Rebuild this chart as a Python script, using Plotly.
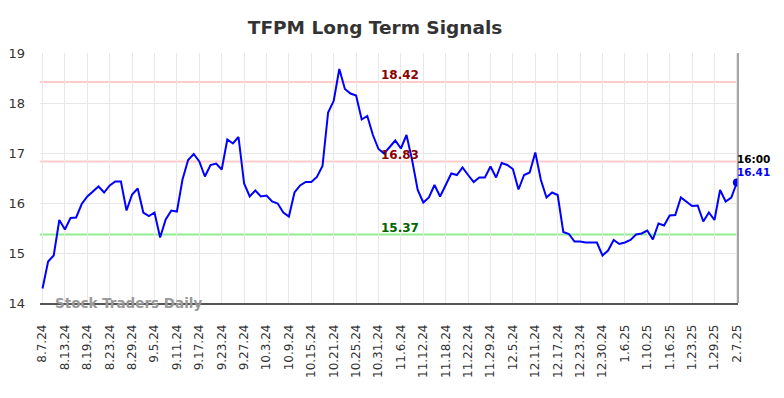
import plotly.graph_objects as go

title = "TFPM Long Term Signals"
tick_labels = ["8.7.24", "8.13.24", "8.19.24", "8.23.24", "8.29.24", "9.5.24", "9.11.24", "9.17.24",
               "9.23.24", "9.27.24", "10.3.24", "10.9.24", "10.15.24", "10.21.24", "10.25.24", "10.31.24",
               "11.6.24", "11.12.24", "11.18.24", "11.22.24", "11.29.24", "12.5.24", "12.11.24", "12.17.24",
               "12.23.24", "12.30.24", "1.6.25", "1.10.25", "1.16.25", "1.23.25", "1.29.25", "2.7.25"]
tick_step = 4

prices = [
    14.29, 14.83, 14.95, 15.66, 15.47, 15.70, 15.71, 15.98, 16.13, 16.23,
    16.33, 16.21, 16.35, 16.43, 16.43, 15.85, 16.17, 16.29, 15.81, 15.74,
    15.81, 15.31, 15.67, 15.85, 15.83, 16.47, 16.86, 16.98, 16.83, 16.53,
    16.76, 16.79, 16.67, 17.27, 17.19, 17.32, 16.39, 16.13, 16.25, 16.13,
    16.15, 16.03, 15.99, 15.81, 15.73, 16.21, 16.35, 16.42, 16.42, 16.52,
    16.74, 17.81, 18.04, 18.68, 18.28, 18.19, 18.15, 17.67, 17.74, 17.36,
    17.08, 16.99, 17.12, 17.25, 17.09, 17.36, 16.86, 16.26, 16.01, 16.11,
    16.36, 16.13, 16.36, 16.59, 16.56, 16.71, 16.56, 16.42, 16.51, 16.51,
    16.73, 16.51, 16.80, 16.76, 16.68, 16.27, 16.56, 16.61, 17.01, 16.46,
    16.11, 16.21, 16.16, 15.42, 15.38, 15.23, 15.23, 15.21, 15.21, 15.21,
    14.95, 15.05, 15.26, 15.18, 15.21, 15.26, 15.37, 15.39, 15.45, 15.27,
    15.59, 15.55, 15.75, 15.76, 16.11, 16.03, 15.94, 15.95, 15.63, 15.81,
    15.66, 16.26, 16.03, 16.11, 16.41,
]
resistance_levels = [18.42, 16.83]
support_levels = [15.37]
last_time = "16:00"

x = list(range(len(prices)))
tick_vals = list(range(0, len(prices), tick_step))

FONT = "DejaVu Sans"
fig = go.Figure()
fig.add_trace(go.Scatter(x=x, y=prices, mode="lines", line=dict(color="#0000ff", width=2),
                         hoverinfo="skip", showlegend=False))
fig.add_trace(go.Scatter(x=[x[-1]], y=[prices[-1]], mode="markers",
                         marker=dict(color="#0000ff", size=8), showlegend=False))

mid = x[len(x) // 2] + 1.8
for lv in resistance_levels:
    fig.add_hline(y=lv, line=dict(color="#ffcccc", width=2), layer="below")
    fig.add_annotation(x=mid, y=lv, text=f"<b>{lv:.2f}</b>", showarrow=False, yanchor="bottom",
                       yshift=-2, font=dict(family=FONT, size=12, color="#8b0000"))
for lv in support_levels:
    fig.add_hline(y=lv, line=dict(color="#90ee90", width=2), layer="below")
    fig.add_annotation(x=mid, y=lv, text=f"<b>{lv:.2f}</b>", showarrow=False, yanchor="bottom",
                       yshift=-2, font=dict(family=FONT, size=12, color="#006400"))

fig.add_annotation(x=x[-1], y=prices[-1], text=f"<b>{last_time}</b>", showarrow=False,
                   xanchor="left", yanchor="middle", yshift=24, xshift=-2,
                   font=dict(family=FONT, size=10.5, color="#000000"))
fig.add_annotation(x=x[-1], y=prices[-1], text=f"<b>{prices[-1]:.2f}</b>", showarrow=False,
                   xanchor="left", yanchor="middle", yshift=10.5, xshift=-2,
                   font=dict(family=FONT, size=10.5, color="#0000ff"))
fig.add_annotation(xref="paper", yref="paper", x=0.018, y=0.0, text="<b>Stock Traders Daily</b>",
                   showarrow=False, xanchor="left", yanchor="middle",
                   font=dict(family=FONT, size=13.5, color="#999999"))

fig.add_shape(type="line", xref="paper", yref="paper", x0=1, x1=1, y0=0, y1=1,
              line=dict(color="#888888", width=1.5))

# page body has an 8px margin at top/left, so the figure is shrunk and offset by 8px
fig.update_layout(
    width=776, height=390,
    margin=dict(l=32, r=46, t=45, b=95, autoexpand=False),
    paper_bgcolor="white", plot_bgcolor="white",
    title=dict(text=f"<b>{title}</b>", x=0.473, xanchor="center", y=0.95, yanchor="middle",
               font=dict(family=FONT, size=18.5, color="#333333")),
    font=dict(family=FONT),
)
fig.update_xaxes(range=[-0.45, len(prices) - 0.8], tickmode="array", tickvals=tick_vals,
                 ticktext=tick_labels, tickangle=-90, showgrid=True, gridcolor="#e8e8e8",
                 gridwidth=1, zeroline=False, showline=True, linecolor="#555555", linewidth=1.5,
                 ticks="outside", ticklen=15, tickcolor="rgba(0,0,0,0)", automargin=False,
                 tickfont=dict(family=FONT, size=12, color="#333333"))
fig.update_yaxes(range=[14, 19], dtick=1, showgrid=True, gridcolor="#e8e8e8", gridwidth=1,
                 zeroline=False, showline=False, ticks="", ticklabelstandoff=14, automargin=False,
                 tickfont=dict(family=FONT, size=13, color="#333333"))

fig.write_html("out.html")
